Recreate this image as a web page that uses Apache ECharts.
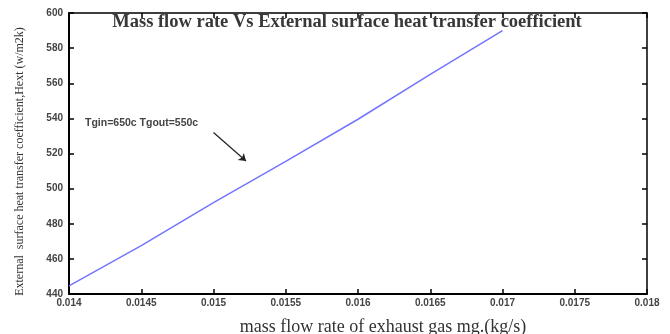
<!DOCTYPE html>
<html>
<head>
<meta charset="utf-8">
<script src="https://cdn.jsdelivr.net/npm/echarts@6/dist/echarts.min.js"></script>
<style>
html, body { margin: 0; padding: 0; background: #fff; }
#chart { width: 670px; height: 334px; }
</style>
</head>
<body>
<div id="chart"></div>
<script>
// 数据
var massFlow = [0.014, 0.0145, 0.015, 0.0155, 0.016, 0.0165, 0.017];
var hExt = [444.6, 467.5, 492, 515.5, 539.5, 565, 590];
var arrowFrom = [0.015, 532];
var arrowTo = [0.015225, 515.7];

var pts = [];
for (var i = 0; i < massFlow.length; i++) {
	pts.push([massFlow[i], hExt[i]]);
}

var myChart = echarts.init(document.getElementById('chart'));

var option = {
	animation : false,
	title : {
		text : 'Mass flow rate Vs External surface heat transfer coefficient',
		left : 342,
		textAlign : 'center',
		top : 8,
		textStyle : {
			fontFamily : 'Liberation Serif',
			fontSize : 18.5,
			fontWeight : 'bold',
			color : '#383838'
		}
	},
	grid : {
		left : 69,
		right : 23,
		top : 13,
		bottom : 40,
		outerBoundsMode : 'none',
		containLabel : false
	},
	xAxis : [{
		type : 'value',
		min : 0.014,
		max : 0.018,
		interval : 0.0005,
		name : 'mass flow rate of exhaust gas mg.(kg/s)',
		nameLocation : 'middle',
		nameGap : 24,
		nameTextStyle : {
			fontFamily : 'Liberation Serif',
			fontSize : 18,
			color : '#333',
			padding : [0, 0, 0, 50]
		},
		axisLine : { lineStyle : { color : '#000', width : 2 } },
		axisTick : { inside : true, length : 5, lineStyle : { color : '#000', width : 1.5 } },
		axisLabel : {
			fontFamily : 'Liberation Sans',
			fontSize : 10,
			fontWeight : 'bold',
			color : '#444',
			margin : 4,
			formatter : function(v) {
				return String(+v.toFixed(5));
			}
		},
		splitLine : { show : false }
	}, {
		type : 'value',
		position : 'top',
		min : 0.014,
		max : 0.018,
		interval : 0.0005,
		axisLine : { show : true, lineStyle : { color : '#000', width : 1.5 } },
		axisTick : { inside : true, length : 5, lineStyle : { color : '#000', width : 1.5 } },
		axisLabel : { show : false },
		splitLine : { show : false }
	}],
	yAxis : [{
		type : 'value',
		min : 440,
		max : 600,
		interval : 20,
		name : 'External  surface heat transfer coefficient,Hext (w/m2k)',
		nameLocation : 'middle',
		nameGap : 43,
		nameTextStyle : {
			fontFamily : 'Liberation Serif',
			fontSize : 12,
			color : '#333',
			padding : [0, 16, 0, 0]
		},
		axisLine : { show : true, lineStyle : { color : '#000', width : 2 } },
		axisTick : { inside : true, length : 5, lineStyle : { color : '#000', width : 1.5 } },
		axisLabel : {
			fontFamily : 'Liberation Sans',
			fontSize : 10,
			fontWeight : 'bold',
			color : '#444',
			margin : 6
		},
		splitLine : { show : false }
	}, {
		type : 'value',
		position : 'right',
		min : 440,
		max : 600,
		interval : 20,
		axisLine : { show : true, lineStyle : { color : '#000', width : 1.5 } },
		axisTick : { inside : true, length : 5, lineStyle : { color : '#000', width : 1.5 } },
		axisLabel : { show : false },
		splitLine : { show : false }
	}],
	graphic : [{
		type : 'text',
		left : 85,
		top : 118,
		style : {
			text : 'Tgin=650c Tgout=550c',
			font : 'bold 10.5px "Liberation Sans"',
			fill : '#444'
		}
	}],
	series : [{
		type : 'line',
		data : pts,
		showSymbol : false,
		lineStyle : { color : '#7474ff', width : 1.5 },
		markLine : {
			silent : true,
			symbol : ['none', 'arrow'],
			symbolSize : 7,
			label : { show : false },
			lineStyle : { color : '#222', width : 1.2, type : 'solid' },
			data : [[{ coord : arrowFrom }, { coord : arrowTo }]]
		}
	}]
};
myChart.setOption(option);
</script>
</body>
</html>
